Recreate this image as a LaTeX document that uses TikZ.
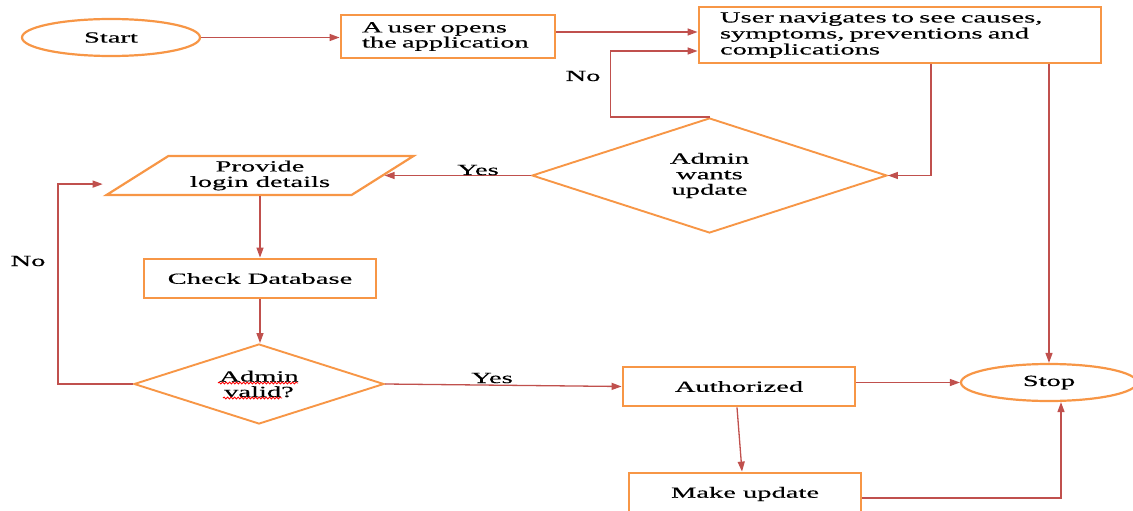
\documentclass[tikz,border=0pt]{standalone}
\usepackage{fontspec}
\setmainfont{Liberation Serif}[FakeStretch=1.84,FakeBold=0.4]
\usetikzlibrary{shapes.geometric,arrows.meta,calc,decorations.pathmorphing}
\definecolor{borderc}{HTML}{F79646}
\definecolor{linec}{HTML}{C0504D}
\begin{document}
\begin{tikzpicture}[x=1pt,y=-1pt,
  every node/.style={font=\fontsize{15.5}{15.5}\selectfont},
  box/.style={draw=borderc,line width=2.8pt,rectangle,inner sep=0pt},
  term/.style={draw=borderc,line width=2.2pt,ellipse,inner sep=0pt},
  dec/.style={draw=borderc,line width=1.9pt,diamond,aspect=3,inner sep=0pt,align=center},
  io/.style={draw=borderc,line width=2.2pt,trapezium,trapezium left angle=32,trapezium right angle=148,trapezium stretches=true,inner sep=0pt,align=center},
  conn/.style={draw=linec,line width=1.3pt,-{Triangle[length=10pt,width=7pt]}},
  lbl/.style={font=\fontsize{15.5}{15}\selectfont},
  squiggle/.style={draw=red,line width=0.8pt,decorate,decoration={snake,amplitude=1pt,segment length=3.5pt}}]
\useasboundingbox (0,0) rectangle (1133,511);

% nodes
\node[term,minimum width=178pt,minimum height=37pt] (start) at (111,37.5) {Start};
\node[box,minimum width=214pt,minimum height=43pt,text width=172pt,align=left] (open) at (448,36.5) {\raisebox{-2pt}{A user opens}\\the application};
\node[box,minimum width=402pt,minimum height=56pt,text width=360pt,align=left,font=\fontsize{15.5}{16}\selectfont] (nav) at (900,35) {User navigates to see causes,\\symptoms, preventions and\\complications};
\node[dec,minimum width=355pt,minimum height=115pt] (d1) at (709.5,175.5) {Admin\\wants\\update};
\node[io,minimum width=308pt,minimum height=39pt] (para) at (260,175.5) {Provide\\login details};
\node[box,minimum width=232pt,minimum height=39pt] (check) at (260,278.5) {Check Database};
\node[dec,minimum width=250pt,minimum height=80pt] (d2) at (259,384) {Admin\\valid?};
\node[box,minimum width=232pt,minimum height=39pt] (auth) at (739,386.5) {Authorized};
\node[box,minimum width=232pt,minimum height=42pt] (upd) at (745,494) {Make update};
\node[term,minimum width=176pt,minimum height=37pt] (stop) at (1049,382.5) {Stop};

% spell-check squiggles
\draw[squiggle] ($(d2.center)+(-41,-1)$) -- ++(80,0);
\draw[squiggle] ($(d2.center)+(-36,14)$) -- ++(59,0);

% connectors
\draw[conn] (start.east) -- (start.east -| open.west);
\draw[conn] (open.east |- 0,32) -- (nav.west |- 0,32);
\draw[conn] (d1.north) -- ++(-99,0) |- (nav.west |- 0,51);
\node[lbl] (no1) at (583,76) {No};
\draw[conn] (nav.south -| 931,0) |- (d1.east);
\draw[conn] (nav.south -| stop.north) -- (stop.north);
\draw[conn] (d1.west) -- (d1.west -| para.east);
\node[lbl] (yes1) at (478,170) {Yes};
\draw[conn] (para.south) -- (para.south |- check.north);
\draw[conn] (check.south) -- (check.south |- d2.north);
\draw[conn] (d2.west) -- ++(-75,0) |- ($(para.bottom left corner)+(0,-12)$);
\node[lbl] (no2) at (28,261) {No};
\draw[conn] (d2.east) -- (auth.west);
\node[lbl] (yes2) at (492,378) {Yes};
\draw[conn] (auth.east |- stop.west) -- (stop.west);
\draw[conn] (auth.south -| 737,0) -- (upd.north -| 742,0);
\draw[conn] (upd.east |- 0,498) -| (stop.south -| 1061,0);
\end{tikzpicture}
\end{document}
